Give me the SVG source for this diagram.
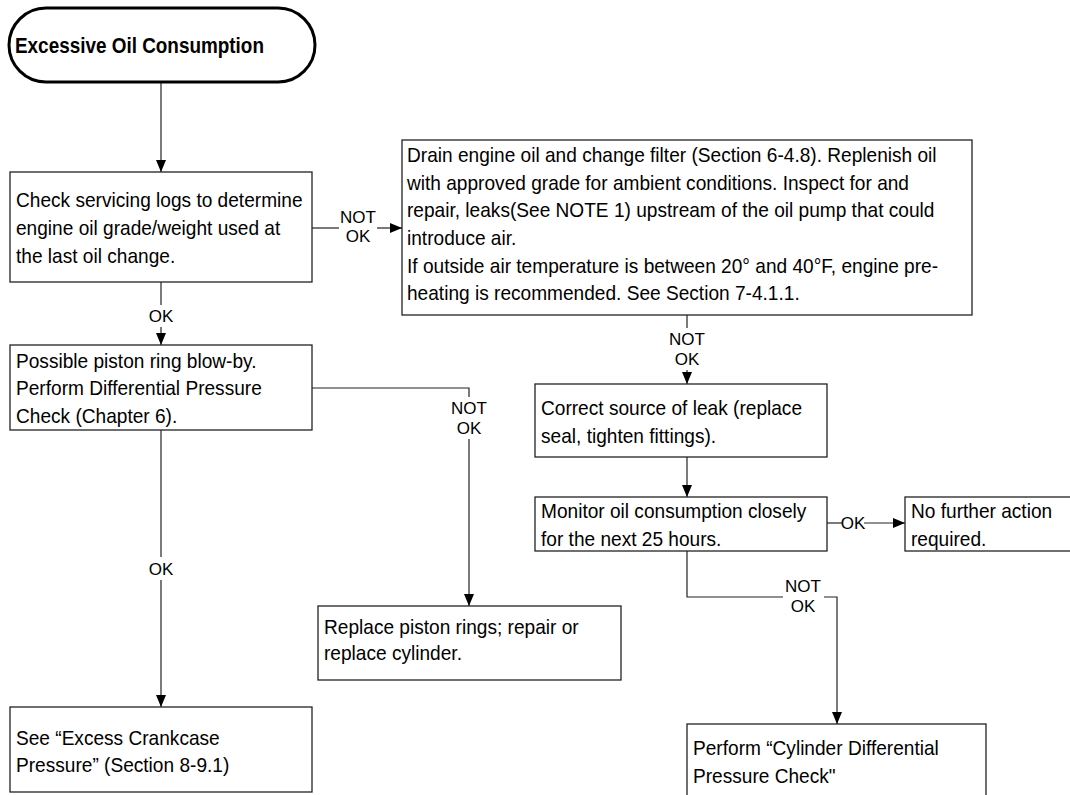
<svg xmlns="http://www.w3.org/2000/svg" width="1070" height="795" viewBox="0 0 1070 795">
<style>
.box{fill:#fff;stroke:#222;stroke-width:1.3}
.term{fill:#fff;stroke:#000;stroke-width:3}
.t{font-family:"Liberation Sans",Arial,sans-serif;font-size:20px;fill:#000}
.tb{font-family:"Liberation Sans",Arial,sans-serif;font-size:22px;font-weight:bold;fill:#000}
.lbl{font-family:"Liberation Sans",Arial,sans-serif;font-size:17px;fill:#000;text-anchor:middle}
.c{fill:none;stroke:#222;stroke-width:1.2}
</style>
<defs>
<marker id="arr" viewBox="0 0 12 10" refX="12" refY="5" markerWidth="12" markerHeight="10" markerUnits="userSpaceOnUse" orient="auto">
<path d="M0,0 L12,5 L0,10 z" fill="#000"/>
</marker>
</defs>
<rect width="1070" height="795" fill="#fff"/>

<g id="connectors">
<path class="c" d="M161,82 V172" marker-end="url(#arr)"/>
<path class="c" d="M312,228 H339"/>
<path class="c" d="M377,228 H402" marker-end="url(#arr)"/>
<path class="c" d="M161,282 V305"/>
<path class="c" d="M161,327 V345" marker-end="url(#arr)"/>
<path class="c" d="M312,388 H469 V397"/>
<path class="c" d="M469,439 V606" marker-end="url(#arr)"/>
<path class="c" d="M161,430 V557"/>
<path class="c" d="M161,580 V707" marker-end="url(#arr)"/>
<path class="c" d="M687,315 V328"/>
<path class="c" d="M687,370 V384" marker-end="url(#arr)"/>
<path class="c" d="M687,457 V497" marker-end="url(#arr)"/>
<path class="c" d="M827,523 H842"/>
<path class="c" d="M864,523 H905" marker-end="url(#arr)"/>
<path class="c" d="M687,551 V597 H783"/>
<path class="c" d="M824,597 H837 V724" marker-end="url(#arr)"/>
<g class="lbl-set">
<text class="lbl" x="358" y="223">NOT</text>
<text class="lbl" x="358" y="242">OK</text>
<text class="lbl" x="161" y="322">OK</text>
<text class="lbl" x="469" y="414">NOT</text>
<text class="lbl" x="469" y="434">OK</text>
<text class="lbl" x="161" y="575">OK</text>
<text class="lbl" x="687" y="345">NOT</text>
<text class="lbl" x="687" y="365">OK</text>
<text class="lbl" x="853" y="529">OK</text>
<text class="lbl" x="803" y="592">NOT</text>
<text class="lbl" x="803" y="612">OK</text>
</g>
</g>

<g id="start">
<rect class="term" x="9" y="8" width="306" height="74" rx="37" ry="37"/>
<g transform="translate(15,0) scale(0.86,1)">
<text class="tb" x="0" y="53">Excessive Oil Consumption</text>
</g>
</g>

<g id="check-logs">
<rect class="box" x="10" y="172" width="302" height="110"/>
<g transform="translate(16,0) scale(0.955,1)">
<text class="t" x="0" y="207">Check servicing logs to determine</text>
<text class="t" x="0" y="235">engine oil grade/weight used at</text>
<text class="t" x="0" y="263">the last oil change.</text>
</g>
</g>

<g id="drain-oil">
<rect class="box" x="402" y="140" width="570" height="175"/>
<g transform="translate(407,0) scale(0.955,1)">
<text class="t" x="0" y="162">Drain engine oil and change filter (Section 6-4.8). Replenish oil</text>
<text class="t" x="0" y="190">with approved grade for ambient conditions. Inspect for and</text>
<text class="t" x="0" y="217">repair, leaks(See NOTE 1) upstream of the oil pump that could</text>
<text class="t" x="0" y="245">introduce air.</text>
<text class="t" x="0" y="273">If outside air temperature is between 20° and 40°F, engine pre-</text>
<text class="t" x="0" y="300">heating is recommended. See Section 7-4.1.1.</text>
</g>
</g>

<g id="blow-by">
<rect class="box" x="10" y="345" width="302" height="85"/>
<g transform="translate(16,0) scale(0.955,1)">
<text class="t" x="0" y="368">Possible piston ring blow-by.</text>
<text class="t" x="0" y="395">Perform Differential Pressure</text>
<text class="t" x="0" y="423">Check (Chapter 6).</text>
</g>
</g>

<g id="correct-leak">
<rect class="box" x="535" y="384" width="292" height="73"/>
<g transform="translate(541,0) scale(0.955,1)">
<text class="t" x="0" y="415">Correct source of leak (replace</text>
<text class="t" x="0" y="443">seal, tighten fittings).</text>
</g>
</g>

<g id="monitor">
<rect class="box" x="535" y="497" width="292" height="54"/>
<g transform="translate(541,0) scale(0.955,1)">
<text class="t" x="0" y="518">Monitor oil consumption closely</text>
<text class="t" x="0" y="546">for the next 25 hours.</text>
</g>
</g>

<g id="no-further">
<rect class="box" x="905" y="497" width="175" height="54"/>
<g transform="translate(911,0) scale(0.955,1)">
<text class="t" x="0" y="518">No further action</text>
<text class="t" x="0" y="546">required.</text>
</g>
</g>

<g id="replace-rings">
<rect class="box" x="318" y="606" width="303" height="74"/>
<g transform="translate(324,0) scale(0.955,1)">
<text class="t" x="0" y="634">Replace piston rings; repair or</text>
<text class="t" x="0" y="660">replace cylinder.</text>
</g>
</g>

<g id="crankcase">
<rect class="box" x="10" y="707" width="302" height="85"/>
<g transform="translate(16,0) scale(0.955,1)">
<text class="t" x="0" y="745">See “Excess Crankcase</text>
<text class="t" x="0" y="772">Pressure” (Section 8-9.1)</text>
</g>
</g>

<g id="cyl-diff">
<rect class="box" x="687" y="724" width="299" height="80"/>
<g transform="translate(693,0) scale(0.955,1)">
<text class="t" x="0" y="755">Perform “Cylinder Differential</text>
<text class="t" x="0" y="783">Pressure Check"</text>
</g>
</g>
</svg>
